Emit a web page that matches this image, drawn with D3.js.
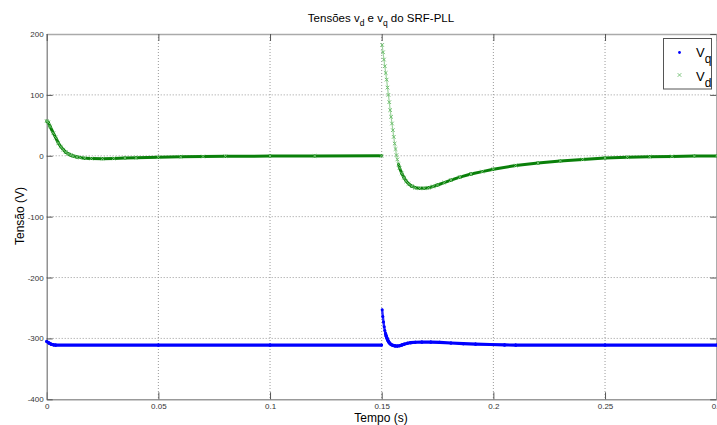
<!DOCTYPE html>
<html><head><meta charset="utf-8">
<script src="https://cdn.jsdelivr.net/npm/d3@7/dist/d3.min.js"></script>
<style>body{margin:0;background:#fff;overflow:hidden}svg{display:block}</style>
</head><body><svg id="c" width="717" height="425"></svg>
<script>
// ---- data ----
const xTicks = [0, 0.05, 0.1, 0.15, 0.2, 0.25, 0.3];
const xTickLabels = ["0", "0.05", "0.1", "0.15", "0.2", "0.25", "0.3"];
const yTicks = [-400, -300, -200, -100, 0, 100, 200];
const yTickLabels = ["-400", "-300", "-200", "-100", "0", "100", "200"];

const vqTime = [0,0.001,0.002,0.003,0.004,0.05,0.1,0.1499,
  0.1502,0.1505,0.1508,0.1511,0.1514,0.1517,0.1520,0.1524,0.1528,0.1532,0.1537,0.1542,0.1550,0.1560,0.1570,0.1580,0.1590,0.1600,0.1615,0.1630,0.1650,0.1680,0.1720,0.1760,0.1810,0.1865,0.1920,0.1985,0.205,0.21,0.25,0.3];
const vqValue = [-305,-307.5,-309.5,-310.5,-311,-311,-311,-311,
  -253,-264,-273,-281,-287,-292,-296,-300,-303.5,-306,-308.5,-310,-311.5,-312.3,-312.5,-312,-310.8,-309.5,-308,-307,-306.3,-306,-306,-306.4,-307.5,-308.6,-309.3,-310,-310.7,-311,-311,-311];

const vdTime = [0,0.0007,0.0015,0.003,0.004,0.0052,0.0063,0.0074,0.0085,0.0097,0.0108,0.0119,0.0135,0.015,0.017,0.02,0.025,0.03,0.035,0.04,0.05,0.06,0.07,0.08,0.1,0.12,0.1499,
  0.1502,0.1506,0.1510,0.1514,0.1518,0.1522,0.1526,0.1530,0.1534,0.1538,0.1542,0.1546,0.1550,0.1554,0.1558,0.1562,0.1566,0.1570,0.1575,0.1580,0.1590,0.1600,0.1610,0.1620,0.1635,0.1650,0.1670,0.1690,0.1710,0.1730,0.1750,0.1780,0.1810,0.1850,0.1900,0.1950,0.2000,0.2100,0.2200,0.2300,0.2400,0.2500,0.2600,0.2700,0.2800,0.2900,0.3000];
const vdValue = [57,55,48,37,30,21,15,10,6,3,1,-0.5,-2,-3,-4,-4.5,-4.7,-4.3,-3.7,-3.2,-2.5,-1.8,-1.2,-0.9,-0.5,-0.3,-0.1,
  182,170,158,147,136,125,112,100,88,75,64,53,42,31,20,11,1,-6,-14,-20,-29,-36,-42,-46,-50,-52.5,-53.5,-53.5,-52.5,-50.5,-48,-44,-40,-35,-30,-26,-22,-16,-12,-8.5,-6,-3.5,-2.6,-1.6,-1,-0.5,-0.2];

const titleMain = "Tensões v", titleSub1 = "d", titleMid = " e v", titleSub2 = "q", titleEnd = " do SRF-PLL";
const xLabel = "Tempo (s)", yLabel = "Tensão (V)";
const legendNames = [["V","q"],["V","d"]];

// ---- layout ----
const svg = d3.select("#c");
const L = 46.7, R = 716.7, T = 34, B = 399.3;
const x = d3.scaleLinear().domain([0, 0.3]).range([L, R]);
const y = d3.scaleLinear().domain([-400, 200]).range([B, T]);
const font = "'Liberation Sans', Arial, Helvetica, sans-serif";

const g = svg.append("g");
// grid
g.selectAll(".gx").data(xTicks.slice(1, -1)).join("line")
  .attr("x1", d => x(d)).attr("x2", d => x(d)).attr("y1", T).attr("y2", B)
  .attr("stroke", "#9a9a9a").attr("stroke-width", 1).attr("stroke-dasharray", "1,2");
g.selectAll(".gy").data(yTicks.slice(1, -1)).join("line")
  .attr("y1", d => y(d)).attr("y2", d => y(d)).attr("x1", L).attr("x2", R)
  .attr("stroke", "#9a9a9a").attr("stroke-width", 1).attr("stroke-dasharray", "1,2");

// axes (inner ticks)
const ax = g.append("g").attr("transform", `translate(0,${B})`)
  .call(d3.axisBottom(x).tickValues(xTicks).tickFormat((d, i) => xTickLabels[i]).tickSizeInner(-7).tickSizeOuter(0).tickPadding(4));
const ay = g.append("g").attr("transform", `translate(${L},0)`)
  .call(d3.axisLeft(y).tickValues(yTicks).tickFormat((d, i) => yTickLabels[i]).tickSizeInner(-6).tickSizeOuter(0).tickPadding(3));
const axT = g.append("g").attr("transform", `translate(0,${T})`)
  .call(d3.axisTop(x).tickValues(xTicks).tickFormat("").tickSizeInner(-7).tickSizeOuter(0));
const ayR = g.append("g").attr("transform", `translate(${R - 0.5},0)`)
  .call(d3.axisRight(y).tickValues(yTicks).tickFormat("").tickSizeInner(-6).tickSizeOuter(0));
[ax, ay, axT, ayR].forEach(a => {
  a.selectAll(".tick line").attr("stroke", "#555");
  a.selectAll("text").attr("font-family", font).attr("font-size", 8).attr("fill", "#333");
});
ax.select(".domain").attr("stroke", "#999").attr("stroke-width", 1.6);
axT.select(".domain").attr("stroke", "#aaa").attr("stroke-width", 1.6);
ay.select(".domain").attr("stroke", "#777").attr("stroke-width", 1.2);
ayR.select(".domain").attr("stroke", "#999");

// series: segment-wise, steep parts (sparse markers) drawn lighter/thinner
const plot = g.append("g");
function drawSeries(ts, vs, dark, light, wDark, wLight) {
  for (let i = 1; i < ts.length; i++) {
    const dt = ts[i] - ts[i - 1];
    const dv = vs[i] - vs[i - 1];
    if (dt < 0.001 && Math.abs(dv) > 30) continue; // jump at t = 0.15
    const x0 = x(ts[i - 1]), x1 = x(ts[i]), y0 = y(vs[i - 1]), y1 = y(vs[i]);
    const speed = Math.abs(y1 - y0) / dt; // px per second vertically
    const steep = speed > 9000;
    plot.append("line").attr("x1", x0).attr("y1", y0).attr("x2", x1).attr("y2", y1)
      .attr("stroke", steep ? light : dark).attr("stroke-width", steep ? wLight : wDark)
      .attr("stroke-linecap", "round");
  }
}
drawSeries(vdTime, vdValue, "#0a800a", "#9fd49f", 3, 1.2);
drawSeries(vqTime, vqValue, "#0000ff", "#2a2aff", 3.2, 2.4);

const vdPts = vdTime.map((t, i) => [t, vdValue[i]]);
plot.selectAll(".mx").data(vdPts).join("path")
  .attr("d", d => { const px = x(d[0]), py = y(d[1]); return `M${px-1.8},${py-1.8}L${px+1.8},${py+1.8}M${px-1.8},${py+1.8}L${px+1.8},${py-1.8}`; })
  .attr("stroke", "#6fbf6f").attr("stroke-width", 1);
const vqPts = vqTime.map((t, i) => [t, vqValue[i]]);
plot.selectAll(".md").data(vqPts).join("circle")
  .attr("cx", d => x(d[0])).attr("cy", d => y(d[1])).attr("r", 1.5).attr("fill", "#0000ff");

// title
const tt = svg.append("text").attr("x", 381).attr("y", 22).attr("text-anchor", "middle")
  .attr("font-family", font).attr("font-size", 11.5).attr("fill", "#000");
tt.append("tspan").text(titleMain);
tt.append("tspan").attr("dy", 4).attr("font-size", 8.5).text(titleSub1);
tt.append("tspan").attr("dy", -4).text(titleMid);
tt.append("tspan").attr("dy", 4).attr("font-size", 8.5).text(titleSub2);
tt.append("tspan").attr("dy", -4).text(titleEnd);

svg.append("text").attr("x", 381).attr("y", 421.5).attr("text-anchor", "middle")
  .attr("font-family", font).attr("font-size", 12).text(xLabel);
svg.append("text").attr("transform", "translate(24,216) rotate(-90)").attr("text-anchor", "middle")
  .attr("font-family", font).attr("font-size", 12).text(yLabel);

// legend
const lg = svg.append("g");
lg.append("rect").attr("x", 663.5).attr("y", 38.5).attr("width", 48).attr("height", 50.5)
  .attr("fill", "#fff").attr("stroke", "#555").attr("stroke-width", 1);
lg.append("circle").attr("cx", 679.5).attr("cy", 52.5).attr("r", 1.4).attr("fill", "#0000ff");
lg.append("path").attr("d", "M677.7,73.2L681.3,76.8M677.7,76.8L681.3,73.2").attr("stroke", "#7cc47c").attr("stroke-width", 1);
legendNames.forEach((n, i) => {
  const t = lg.append("text").attr("x", 696).attr("y", 57 + i * 23.5)
    .attr("font-family", font).attr("font-size", 13).attr("fill", "#000");
  t.append("tspan").text(n[0]);
  t.append("tspan").attr("dy", 6).attr("font-size", 12).text(n[1]);
});
</script></body></html>
